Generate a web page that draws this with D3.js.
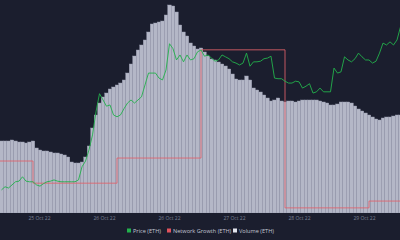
<!DOCTYPE html>
<html>
<head>
<meta charset="utf-8">
<script src="https://cdn.jsdelivr.net/npm/d3@7"></script>
<style>
  html, body { margin: 0; padding: 0; background: #1b1e2e; }
  svg { display: block; }
  .tick text { fill: #7d8296; font-family: "Open Sans", sans-serif; }
  .legend text { fill: #c3c6d3; font-family: "Open Sans", sans-serif; }
</style>
</head>
<body>
<script>
// hourly series, first point 24 Oct 2022 15:00 UTC
var firstHour = "2022-10-24T15:00:00Z";

// volume (ETH), billions
var volume = [
  7.2, 7.2, 7.2, 7.3, 7.2, 7.1, 7.1, 7.0, 7.1, 7.2,
  6.5, 6.3, 6.2, 6.2, 6.1, 6.0, 6.0, 5.9, 5.8, 5.6,
  5.1, 5.0, 5.0, 5.1, 5.6, 6.7, 8.5, 9.8, 11.0, 11.6,
  12.0, 12.4, 12.6, 12.8, 13.0, 13.3, 14.0, 14.9, 15.7, 16.3,
  16.8, 17.3, 18.1, 18.9, 19.0, 19.1, 19.2, 19.8, 20.8, 20.7,
  20.1, 18.8, 18.1, 17.7, 17.0, 16.7, 16.4, 16.5, 16.1, 15.7,
  15.4, 15.3, 15.1, 14.9, 14.7, 14.4, 13.9, 13.4, 13.3, 13.3,
  13.7, 13.3, 12.5, 12.3, 12.1, 11.8, 11.5, 11.2, 11.3, 11.5,
  11.2, 11.1, 11.2, 11.2, 11.1, 11.2, 11.3, 11.3, 11.3, 11.3,
  11.3, 11.2, 11.1, 11.0, 10.8, 10.8, 10.9, 11.1, 11.1, 11.1,
  11.0, 10.7, 10.4, 10.2, 10.0, 9.8, 9.6, 9.4, 9.3, 9.5,
  9.6, 9.6, 9.7, 9.8, 9.8
];

// price (ETH), USD
var price = [
  1345, 1350, 1348, 1353, 1358, 1359, 1366, 1359, 1358, 1358,
  1353, 1351, 1355, 1358, 1359, 1361, 1359, 1358, 1358, 1358,
  1358, 1358, 1361, 1382, 1391, 1409, 1433, 1470, 1499, 1489,
  1479, 1481, 1465, 1462, 1465, 1475, 1484, 1489, 1484, 1489,
  1494, 1513, 1532, 1532, 1532, 1524, 1521, 1537, 1579, 1571,
  1553, 1561, 1550, 1561, 1553, 1555, 1566, 1569, 1559, 1561,
  1556, 1551, 1553, 1561, 1558, 1555, 1550, 1548, 1545, 1548,
  1564, 1543, 1550, 1550, 1551, 1555, 1556, 1559, 1524, 1523,
  1523, 1519, 1516, 1516, 1519, 1518, 1508, 1511, 1515, 1500,
  1502, 1508, 1502, 1502, 1502, 1540, 1532, 1534, 1558, 1553,
  1550, 1555, 1564, 1558, 1553, 1553, 1548, 1551, 1564, 1580,
  1577, 1582, 1577, 1585, 1606
];

// daily network growth
var growthDays = ["2022-10-24", "2022-10-25", "2022-10-26", "2022-10-27", "2022-10-28", "2022-10-29"];
var growth = [72200, 67000, 72900, 98300, 61200, 62800];

// x axis ticks
var tickTimes = ["2022-10-25T01:43:00Z", "2022-10-25T20:17:00Z", "2022-10-26T14:51:00Z",
                 "2022-10-27T09:25:00Z", "2022-10-28T04:00:00Z", "2022-10-28T22:34:00Z"];
var tickLabels = ["25 Oct 22", "26 Oct 22", "26 Oct 22", "27 Oct 22", "28 Oct 22", "29 Oct 22"];

var legendNames = ["Price (ETH)", "Network Growth (ETH)", "Volume (ETH)"];
var legendColors = ["#22b14c", "#e0525c", "#e4e6ee"];

var W = 400, H = 240;
var plotH = 213;
var HOUR = 3600 * 1000;

var t0 = new Date(firstHour).getTime();
var hourly = volume.map(function (v, i) {
    return { date: new Date(t0 + i * HOUR), volume: v, price: price[i] };
});
var daily = growthDays.map(function (d, i) {
    return { date: new Date(d + "T00:00:00Z"), value: growth[i] };
});

var x = d3.scaleUtc()
    .domain([new Date("2022-10-24T14:34:17Z"), new Date("2022-10-29T08:51:26Z")])
    .range([0, W]);
var yVol = d3.scaleLinear().domain([0, 21.3]).range([plotH, 0]);
var yPrice = d3.scaleLinear().domain([1308, 1649]).range([plotH, 0]);
var yGrowth = d3.scaleLinear().domain([60000, 110000]).range([plotH, 0]);

// step line runs to the right edge
var dailyExt = daily.concat([{ date: x.domain()[1], value: growth[growth.length - 1] }]);

var svg = d3.select("body").append("svg")
    .attr("width", W)
    .attr("height", H);

svg.append("rect")
    .attr("width", W)
    .attr("height", H)
    .attr("fill", "#1b1e2e");

svg.append("clipPath")
    .attr("id", "plot")
    .append("rect")
    .attr("width", W)
    .attr("height", plotH);

var g = svg.append("g").attr("clip-path", "url(#plot)");

// volume bars
var bw = x(new Date(t0 + HOUR)) - x(new Date(t0));
g.selectAll("rect.vol")
    .data(hourly)
    .enter().append("rect")
    .attr("class", "vol")
    .attr("x", function (d) { return x(d.date) - bw / 2; })
    .attr("y", function (d) { return yVol(d.volume); })
    .attr("width", bw)
    .attr("height", function (d) { return plotH - yVol(d.volume); })
    .attr("fill", "#b4b7c7")
    .attr("stroke", "#999cb0")
    .attr("stroke-width", 0.45);

// network growth
g.append("path")
    .datum(dailyExt)
    .attr("fill", "none")
    .attr("stroke", "#e0606a")
    .attr("stroke-width", 1)
    .attr("stroke-opacity", 0.85)
    .attr("d", d3.line()
        .curve(d3.curveStepAfter)
        .x(function (d) { return x(d.date); })
        .y(function (d) { return yGrowth(d.value); }));

// price
g.append("path")
    .datum(hourly)
    .attr("fill", "none")
    .attr("stroke", "#22b14c")
    .attr("stroke-width", 0.9)
    .attr("stroke-linejoin", "round")
    .attr("d", d3.line()
        .x(function (d) { return x(d.date); })
        .y(function (d) { return yPrice(d.price); }));

// x axis
var xAxis = d3.axisBottom(x)
    .tickValues(tickTimes.map(function (t) { return new Date(t); }))
    .tickFormat(function (d, i) { return tickLabels[i]; })
    .tickSize(0)
    .tickPadding(3);

svg.append("g")
    .attr("transform", "translate(0," + plotH + ")")
    .call(xAxis)
    .call(function (a) { a.select(".domain").remove(); })
    .selectAll("text")
    .attr("font-size", 5);

// legend
var legend = svg.append("g")
    .attr("class", "legend")
    .attr("transform", "translate(0,231)");
var lx = [127, 167, 233];
legendNames.forEach(function (name, i) {
    legend.append("rect")
        .attr("x", lx[i])
        .attr("y", -2.5)
        .attr("width", 4)
        .attr("height", 4)
        .attr("fill", legendColors[i]);
    legend.append("text")
        .attr("x", lx[i] + 6)
        .attr("y", 2)
        .attr("font-size", 5.6)
        .text(name);
});
</script>
</body>
</html>
